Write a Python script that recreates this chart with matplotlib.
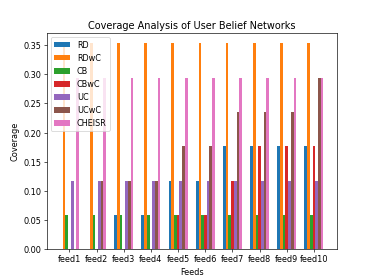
import matplotlib
matplotlib.use("Agg")
import matplotlib.pyplot as plt
import numpy as np

feeds = ["feed1", "feed2", "feed3", "feed4", "feed5",
         "feed6", "feed7", "feed8", "feed9", "feed10"]
methods = ["RD", "RDwC", "CB", "CBwC", "UC", "UCwC", "CHEISR"]

# coverage counts out of 17 users
rd = [0, 0, 1, 1, 2, 2, 3, 3, 3, 3]
rdwc = [6, 6, 6, 6, 6, 6, 6, 6, 6, 6]
cb = [1, 1, 1, 1, 1, 1, 1, 1, 1, 1]
cbwc = [0, 0, 0, 0, 1, 1, 2, 3, 3, 3]
uc = [2, 2, 2, 2, 2, 2, 2, 2, 2, 2]
ucwc = [0, 2, 2, 2, 3, 3, 4, 4, 4, 5]
cheisr = [5, 5, 5, 5, 5, 5, 5, 5, 5, 5]
total = 17

series = [rd, rdwc, cb, cbwc, uc, ucwc, cheisr]

fig, ax = plt.subplots(figsize=(6.4, 4.8), dpi=58.45)

x = np.arange(len(feeds))
width = 0.1
for i, (name, vals) in enumerate(zip(methods, series)):
    ax.bar(x + (i - 3) * width, np.array(vals) / total, width, label=name)

ax.set_xticks(x)
ax.set_xticklabels(feeds)
ax.set_xlabel("Feeds")
ax.set_ylabel("Coverage")
ax.set_title("Coverage Analysis of User Belief Networks")
ax.legend(loc="upper left")

fig.savefig("out.png", dpi=58.45)
